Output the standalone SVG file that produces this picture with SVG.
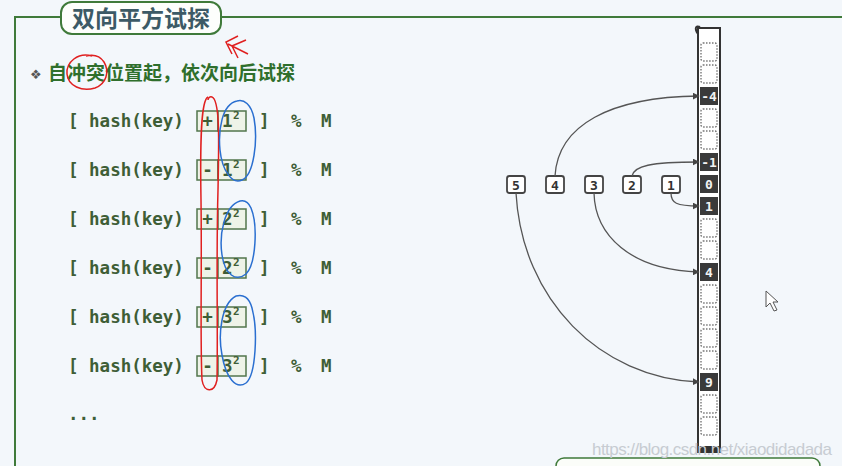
<svg xmlns="http://www.w3.org/2000/svg" width="842" height="466" viewBox="0 0 842 466">
<defs>
<style>
.frame{fill:none;stroke:#3f7a3a;stroke-width:2}
.title{font-family:"Noto Sans CJK SC","Noto Sans",sans-serif;font-size:23px;font-weight:bold;fill:#3c5a66}
.bullet{font-family:"Noto Sans CJK SC","Noto Sans",sans-serif;font-size:19px;font-weight:bold;fill:#2f6f2c}
.code{font-family:"DejaVu Sans Mono","Liberation Mono",monospace;font-size:17.5px;font-weight:bold;fill:#3e5e36}
.sup{font-family:"DejaVu Sans Mono","Liberation Mono",monospace;font-size:11px;font-weight:bold;fill:#3e5e36}
.op{fill:#eef3e8;stroke:#52764c;stroke-width:1.5}
.node rect{fill:#fff;stroke:#444;stroke-width:1.8}
.node text{font-family:"DejaVu Sans Mono","Liberation Mono",monospace;font-size:13px;font-weight:bold;fill:#333;text-anchor:middle}
.empty{fill:#fff;stroke:#777;stroke-width:1.4;stroke-dasharray:1.5 1.5}
.full rect{fill:#3a3a3a}
.full text{font-family:"DejaVu Sans Mono","Liberation Mono",monospace;font-size:13px;font-weight:bold;fill:#f2f2f2;text-anchor:middle}
.edge{fill:none;stroke:#555;stroke-width:1.3;marker-end:url(#ah)}
.red{fill:none;stroke:#e02020;stroke-width:1.5}
.blue{fill:none;stroke:#2a6fd0;stroke-width:1.5}
</style>
<marker id="ah" viewBox="0 0 10 10" refX="9" refY="5" markerWidth="7" markerHeight="7" markerUnits="userSpaceOnUse" orient="auto">
<path d="M0,0 L10,5 L0,10 z" fill="#444"/>
</marker>
</defs>
<rect width="842" height="466" fill="#f3f7fb"/>

<!-- frame -->
<path class="frame" d="M15,466 V17 H61 M221,17 H842"/>
<g id="title">
<rect x="61" y="2" width="160" height="32" rx="11" fill="#fdfefc" stroke="#3f7a3a" stroke-width="2"/>
<text class="title" x="141" y="27" text-anchor="middle">双向平方试探</text>
</g>

<g id="bullet">
<text x="30" y="79" font-family="DejaVu Sans,sans-serif" font-size="13" fill="#555">❖</text>
<text class="bullet" x="48" y="80">自冲突位置起，依次向后试探</text>
</g>

<!-- formula rows -->
<g id="row1">
<text class="code" x="68" y="127">[ hash(key)</text>
<rect class="op" x="197" y="111" width="21" height="20"/><rect class="op" x="218" y="111" width="28" height="20"/>
<text class="code" x="207.5" y="127" text-anchor="middle">+</text>
<text class="code" x="222" y="127">1</text><text class="sup" x="233" y="119">2</text>
<text class="code" x="259" y="127">]</text><text class="code" x="291" y="127">%</text><text class="code" x="321" y="127">M</text>
</g>
<g id="row2">
<text class="code" x="68" y="176">[ hash(key)</text>
<rect class="op" x="197" y="160" width="21" height="20"/><rect class="op" x="218" y="160" width="28" height="20"/>
<text class="code" x="207.5" y="176" text-anchor="middle">-</text>
<text class="code" x="222" y="176">1</text><text class="sup" x="233" y="168">2</text>
<text class="code" x="259" y="176">]</text><text class="code" x="291" y="176">%</text><text class="code" x="321" y="176">M</text>
</g>
<g id="row3">
<text class="code" x="68" y="225">[ hash(key)</text>
<rect class="op" x="197" y="209" width="21" height="20"/><rect class="op" x="218" y="209" width="28" height="20"/>
<text class="code" x="207.5" y="225" text-anchor="middle">+</text>
<text class="code" x="222" y="225">2</text><text class="sup" x="233" y="217">2</text>
<text class="code" x="259" y="225">]</text><text class="code" x="291" y="225">%</text><text class="code" x="321" y="225">M</text>
</g>
<g id="row4">
<text class="code" x="68" y="274">[ hash(key)</text>
<rect class="op" x="197" y="258" width="21" height="20"/><rect class="op" x="218" y="258" width="28" height="20"/>
<text class="code" x="207.5" y="274" text-anchor="middle">-</text>
<text class="code" x="222" y="274">2</text><text class="sup" x="233" y="266">2</text>
<text class="code" x="259" y="274">]</text><text class="code" x="291" y="274">%</text><text class="code" x="321" y="274">M</text>
</g>
<g id="row5">
<text class="code" x="68" y="323">[ hash(key)</text>
<rect class="op" x="197" y="307" width="21" height="20"/><rect class="op" x="218" y="307" width="28" height="20"/>
<text class="code" x="207.5" y="323" text-anchor="middle">+</text>
<text class="code" x="222" y="323">3</text><text class="sup" x="233" y="315">2</text>
<text class="code" x="259" y="323">]</text><text class="code" x="291" y="323">%</text><text class="code" x="321" y="323">M</text>
</g>
<g id="row6">
<text class="code" x="68" y="372">[ hash(key)</text>
<rect class="op" x="197" y="356" width="21" height="20"/><rect class="op" x="218" y="356" width="28" height="20"/>
<text class="code" x="207.5" y="372" text-anchor="middle">-</text>
<text class="code" x="222" y="372">3</text><text class="sup" x="233" y="364">2</text>
<text class="code" x="259" y="372">]</text><text class="code" x="291" y="372">%</text><text class="code" x="321" y="372">M</text>
</g>
<text class="code" x="68" y="420">...</text>

<!-- hand annotations -->
<g id="annotations">
<path class="red" d="M92,56 C78,52 66,62 67,74 C68,86 82,92 95,88 C106,84 110,72 104,62 C100,56 94,54 86,56"/>
<path class="red" d="M238,36 L226,42 L232,54 M246,40 L232,46 L238,58 M228,44 L248,54"/>
<path class="red" d="M208,97 C201,100 200,140 201,200 C202,270 200,340 202,380 C204,392 214,394 217,380 C218,330 216,260 218,190 C219,140 220,100 212,97 C210,96 208,98 208,100"/>
<path class="blue" d="M237,101 C222,104 218,130 220,150 C222,170 232,185 242,180 C254,175 258,140 254,118 C251,104 244,99 237,101"/>
<path class="blue" d="M240,201 C224,206 219,235 222,255 C225,275 236,282 246,274 C256,264 258,225 251,208 C248,201 244,200 240,201"/>
<path class="blue" d="M236,296 C221,304 218,335 222,355 C226,378 236,390 246,383 C256,375 258,330 252,308 C249,297 243,294 236,296"/>
</g>

<!-- array column -->
<g id="array">
<rect x="698" y="28" width="22" height="424" fill="#fff" stroke="#333" stroke-width="2"/>
<path d="M698,34 C694,28 696,25 700,27" fill="none" stroke="#333" stroke-width="2"/>
<rect x="698" y="446" width="22" height="6" fill="#333"/>
<g id="cells-empty">
<rect class="empty" x="701" y="43" width="16" height="18" rx="2"/>
<rect class="empty" x="701" y="65" width="16" height="18" rx="2"/>
<rect class="empty" x="701" y="109" width="16" height="18" rx="2"/>
<rect class="empty" x="701" y="131" width="16" height="18" rx="2"/>
<rect class="empty" x="701" y="219" width="16" height="18" rx="2"/>
<rect class="empty" x="701" y="241" width="16" height="18" rx="2"/>
<rect class="empty" x="701" y="285" width="16" height="18" rx="2"/>
<rect class="empty" x="701" y="307" width="16" height="18" rx="2"/>
<rect class="empty" x="701" y="329" width="16" height="18" rx="2"/>
<rect class="empty" x="701" y="351" width="16" height="18" rx="2"/>
<rect class="empty" x="701" y="395" width="16" height="18" rx="2"/>
<rect class="empty" x="701" y="417" width="16" height="18" rx="2"/>
</g>
<g id="cell-m4" class="full"><rect x="700" y="87" width="18" height="18"/><text x="709" y="101">-4</text></g>
<g id="cell-m1" class="full"><rect x="700" y="153" width="18" height="18"/><text x="709" y="167">-1</text></g>
<g id="cell-0" class="full"><rect x="700" y="175" width="18" height="18"/><text x="709" y="189">0</text></g>
<g id="cell-1" class="full"><rect x="700" y="197" width="18" height="18"/><text x="709" y="211">1</text></g>
<g id="cell-4" class="full"><rect x="700" y="263" width="18" height="18"/><text x="709" y="277">4</text></g>
<g id="cell-9" class="full"><rect x="700" y="373" width="18" height="18"/><text x="709" y="387">9</text></g>
</g>

<!-- probe nodes -->
<g id="n5" class="node"><rect x="507" y="176" width="18" height="17" rx="2.5"/><text x="516" y="189.5">5</text></g>
<g id="n4" class="node"><rect x="546" y="176" width="18" height="17" rx="2.5"/><text x="555" y="189.5">4</text></g>
<g id="n3" class="node"><rect x="585" y="176" width="18" height="17" rx="2.5"/><text x="594" y="189.5">3</text></g>
<g id="n2" class="node"><rect x="623" y="176" width="18" height="17" rx="2.5"/><text x="632" y="189.5">2</text></g>
<g id="n1" class="node"><rect x="662" y="176" width="18" height="17" rx="2.5"/><text x="671" y="189.5">1</text></g>

<g id="connectors">
<path class="edge" d="M671,193 C671,203 676,206 699,206"/>
<path class="edge" d="M632,176 C634,166 650,162 699,162"/>
<path class="edge" d="M555,176 C558,125 610,97 699,96"/>
<path class="edge" d="M594,193 C595,235 630,270 699,272"/>
<path class="edge" d="M516,193 C522,300 600,378 699,382"/>
</g>

<!-- cursor -->
<path d="M766,291 L766,307 L770,303 L774,311 L777,310 L773,302 L778,302 Z" fill="#fff" stroke="#555" stroke-width="1"/>

<!-- footer -->
<rect x="556" y="458" width="264" height="24" rx="8" fill="#fbfdf9" stroke="#3f7a3a" stroke-width="1.5"/>
<text x="592" y="455" font-family="Liberation Sans,Arial,sans-serif" font-size="17" fill="#c7ccd2" textLength="240">https://blog.csdn.net/xiaodidadada</text>
</svg>
